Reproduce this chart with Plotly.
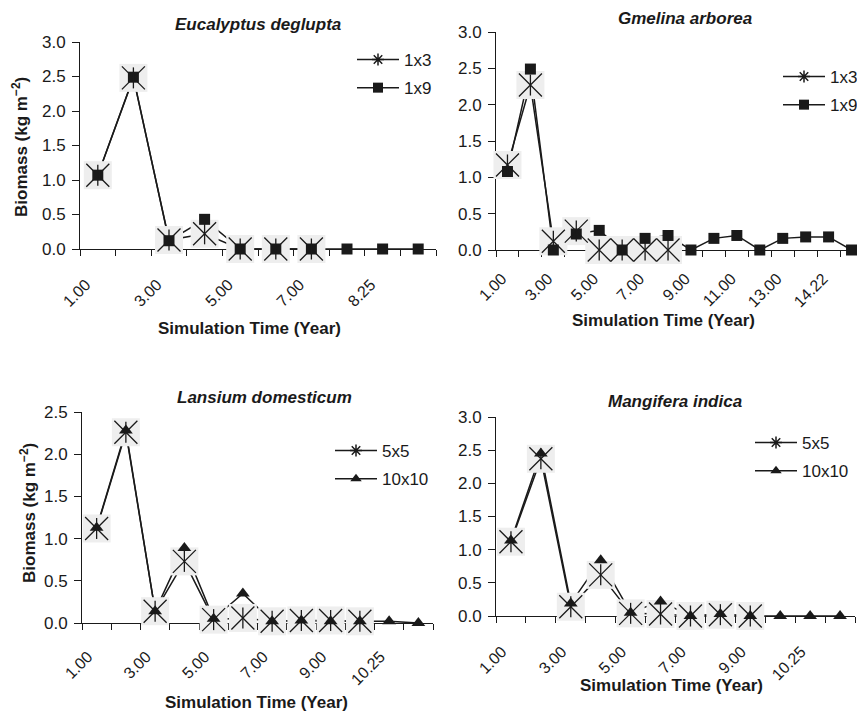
import plotly.graph_objects as go

W, H = 865, 712

# ---------------- data ----------------
# tick labels per category (blank where the chart shows no label)
E_labels = ["1.00", "", "3.00", "", "5.00", "", "7.00", "", "8.25", ""]
G_labels = ["1.00", "", "3.00", "", "5.00", "", "7.00", "", "9.00", "", "11.00", "", "13.00", "", "14.22", ""]
L_labels = ["1.00", "", "3.00", "", "5.00", "", "7.00", "", "9.00", "", "10.25", ""]
M_labels = ["1.00", "", "3.00", "", "5.00", "", "7.00", "", "9.00", "", "10.25", ""]

E_1x3 = [1.07, 2.48, 0.13, 0.22, 0.0, 0.0, 0.0]
E_1x9 = [1.07, 2.49, 0.12, 0.43, 0.0, 0.0, 0.0, 0.0, 0.0, 0.0]

G_1x3 = [1.17, 2.27, 0.12, 0.26, 0.0, 0.0, 0.0, 0.0]
G_1x9 = [1.08, 2.49, 0.0, 0.22, 0.27, 0.0, 0.16, 0.20, 0.0, 0.16, 0.20, 0.0, 0.16, 0.18, 0.18, 0.0]

L_5x5 = [1.12, 2.26, 0.14, 0.73, 0.04, 0.06, 0.02, 0.03, 0.03, 0.02]
L_10x10 = [1.13, 2.28, 0.14, 0.89, 0.05, 0.35, 0.02, 0.03, 0.02, 0.02, 0.02, 0.0]

M_5x5 = [1.12, 2.37, 0.14, 0.62, 0.04, 0.03, 0.0, 0.02, 0.0]
M_10x10 = [1.14, 2.45, 0.19, 0.84, 0.05, 0.22, 0.0, 0.03, 0.0, 0.0, 0.0, 0.0]

TITLES = ["Eucalyptus deglupta", "Gmelina arborea", "Lansium domesticum", "Mangifera indica"]

# ---------------- style ----------------
FONT = "Liberation Sans, Arial, Helvetica, sans-serif"
INK = "#1a1a1a"
BOX = "#eeeeee"
FS = 17
FS_X = 16

panels = [
    dict(title=TITLES[0], labels=E_labels, s1=("1x3", E_1x3), s2=("1x9", E_1x9), sym2="square", size2=11,
         xd=(72, 428), yd=(34, 241), ymax=3.0, ytitle=True, standoff=13,
         tpos=(250, 17), xtpos=(241, 320), ytpos=(12, 139), leg=(344, 34, "left")),
    dict(title=TITLES[1], labels=G_labels, s1=("1x3", G_1x3), s2=("1x9", G_1x9), sym2="square", size2=11,
         xd=(488, 855), yd=(24, 242), ymax=3.0, ytitle=False, standoff=6,
         tpos=(677, None), xtpos=(655, 312), ytpos=None, leg=(855, 51, "right")),
    dict(title=TITLES[2], labels=L_labels, s1=("5x5", L_5x5), s2=("10x10", L_10x10), sym2="triangle-up", size2=12,
         xd=(74, 425), yd=(404, 615), ymax=2.5, ytitle=True, standoff=11,
         tpos=(256, 390), xtpos=(248, 694), ytpos=(20, 505), leg=(322, 425, "left")),
    dict(title=TITLES[3], labels=M_labels, s1=("5x5", M_5x5), s2=("10x10", M_10x10), sym2="triangle-up", size2=12,
         xd=(488, 847), yd=(409, 608), ymax=3.0, ytitle=False, standoff=13,
         tpos=(667, 393), xtpos=(663, 677), ytpos=None, leg=(846, 417, "right")),
]

fig = go.Figure()
annotations = []
layout = {}

for k, p in enumerate(panels, start=1):
    xa = "x" if k == 1 else f"x{k}"
    ya = "y" if k == 1 else f"y{k}"
    lg = "legend" if k == 1 else f"legend{k}"
    n = len(p["labels"])
    name1, v1 = p["s1"]
    name2, v2 = p["s2"]
    x1 = list(range(len(v1)))
    x2 = list(range(len(v2)))

    common = dict(xaxis=xa, yaxis=ya, showlegend=False, hoverinfo="skip")
    # lines (drawn first, hidden under marker boxes)
    fig.add_trace(go.Scatter(x=x2, y=v2, mode="lines", line=dict(color=INK, width=1.5), **common))
    fig.add_trace(go.Scatter(x=x1, y=v1, mode="lines", line=dict(color=INK, width=1.5), **common))
    # grey background boxes of star markers
    fig.add_trace(go.Scatter(x=x1, y=v1, mode="markers", cliponaxis=False,
                             marker=dict(symbol="square", size=28, color=BOX, line=dict(width=0)), **common))
    # second series markers
    fig.add_trace(go.Scatter(x=x2, y=v2, mode="markers", cliponaxis=False,
                             marker=dict(symbol=p["sym2"], size=p["size2"], color=INK, line=dict(width=0)), **common))
    # star markers (X + vertical bar)
    fig.add_trace(go.Scatter(x=x1, y=v1, mode="markers", cliponaxis=False,
                             marker=dict(symbol="x-thin-open", size=23, color=INK, line=dict(color=INK, width=1.3)), **common))
    fig.add_trace(go.Scatter(x=x1, y=v1, mode="markers", cliponaxis=False,
                             marker=dict(symbol="line-ns-open", size=15, color=INK, line=dict(color=INK, width=1.3)), **common))
    # legend entries
    fig.add_trace(go.Scatter(x=[None], y=[None], xaxis=xa, yaxis=ya, name=name1, legend=lg, legendgroup=f"a{k}",
                             mode="lines+markers", line=dict(color=INK, width=1.5),
                             marker=dict(symbol="asterisk-open", size=10, color=INK, line=dict(color=INK, width=1.5))))
    fig.add_trace(go.Scatter(x=[None], y=[None], xaxis=xa, yaxis=ya, name=name2, legend=lg, legendgroup=f"b{k}",
                             mode="lines+markers", line=dict(color=INK, width=1.5),
                             marker=dict(symbol=p["sym2"], size=10, color=INK)))

    # labels sit at the left boundary of their category; ticks mark every boundary
    lab_idx = [i for i, t in enumerate(p["labels"]) if t]
    layout["xaxis" if k == 1 else f"xaxis{k}"] = dict(
        domain=[p["xd"][0] / W, p["xd"][1] / W], anchor=ya, range=[-0.5, n - 0.5],
        tickmode="array", tickvals=[i - 0.5 for i in lab_idx], ticktext=[p["labels"][i] for i in lab_idx],
        tickangle=-45, ticks="outside", ticklen=6, tickwidth=1, tickcolor=INK,
        minor=dict(tickmode="array", tickvals=[i - 0.5 for i in range(n + 1)], ticks="outside",
                   ticklen=6, tickwidth=1, tickcolor=INK, showgrid=False),
        showline=True, linecolor=INK, linewidth=1, showgrid=False, zeroline=False,
        layer="below traces", ticklabelshift=6, ticklabelstandoff=p["standoff"], automargin=False,
        tickfont=dict(family=FONT, size=FS_X, color=INK), fixedrange=True)
    layout["yaxis" if k == 1 else f"yaxis{k}"] = dict(
        domain=[1 - p["yd"][1] / H, 1 - p["yd"][0] / H], anchor=xa, range=[0, p["ymax"]],
        tickmode="linear", tick0=0, dtick=0.5, tickformat=".1f",
        ticks="outside", ticklen=7, tickwidth=1, tickcolor=INK, ticklabelstandoff=3,
        showline=True, linecolor=INK, linewidth=1, showgrid=False, zeroline=False, automargin=False,
        layer="below traces", tickfont=dict(family=FONT, size=FS, color=INK), fixedrange=True)
    lx, ly, lanchor = p["leg"]
    layout[lg] = dict(x=lx / W, y=1 - ly / H, xanchor=lanchor, yanchor="top",
                      bgcolor="rgba(0,0,0,0)", font=dict(family=FONT, size=FS, color=INK),
                      itemwidth=42, tracegroupgap=3, traceorder="grouped")

    if p["tpos"][1] is None:
        annotations.append(dict(text=f"<b><i>{p['title']}</i></b>", x=p["tpos"][0] / W, y=1.0,
                                xref="paper", yref="paper", xanchor="center", yanchor="top", showarrow=False,
                                borderpad=0, font=dict(family=FONT, size=FS, color=INK)))
    else:
        annotations.append(dict(text=f"<b><i>{p['title']}</i></b>", x=p["tpos"][0] / W, y=1 - p["tpos"][1] / H,
                                xref="paper", yref="paper", xanchor="center", yanchor="middle", showarrow=False,
                                font=dict(family=FONT, size=FS, color=INK)))
    annotations.append(dict(text="<b>Simulation Time (Year)</b>", x=p["xtpos"][0] / W, y=1 - p["xtpos"][1] / H,
                            xref="paper", yref="paper", xanchor="center", yanchor="middle", showarrow=False,
                            font=dict(family=FONT, size=FS, color=INK)))
    if p["ytitle"]:
        annotations.append(dict(text="<b>Biomass (kg m<sup>\u22122</sup>)</b>", x=p["ytpos"][0] / W,
                                y=1 - p["ytpos"][1] / H, xref="paper", yref="paper",
                                xanchor="center", yanchor="middle", textangle=-90, showarrow=False,
                                font=dict(family=FONT, size=FS, color=INK)))

fig.update_layout(
    width=W, height=H, margin=dict(l=0, r=0, t=0, b=0, autoexpand=False),
    paper_bgcolor="white", plot_bgcolor="white",
    font=dict(family=FONT, size=FS, color=INK),
    annotations=annotations, **layout)

fig.write_html("out.html")
